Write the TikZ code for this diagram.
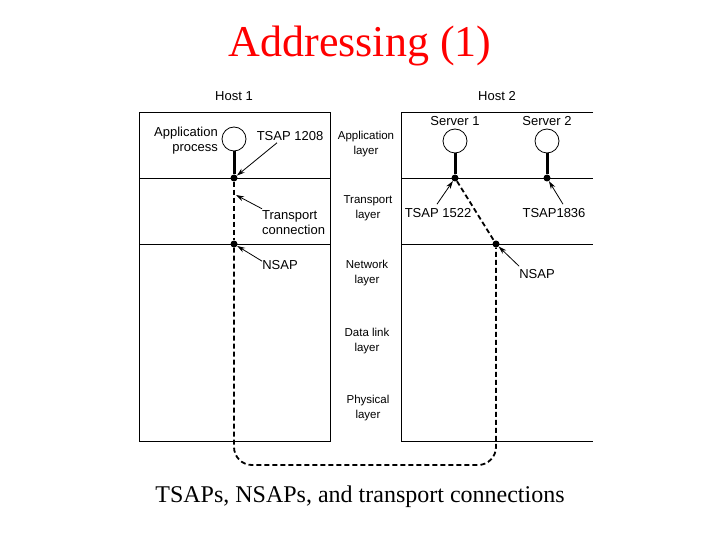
\documentclass[tikz,border=0pt]{standalone}
\usepackage{fontspec}
\setmainfont{Liberation Serif}
\newfontfamily\labelfont{Liberation Sans}
\usetikzlibrary{arrows.meta}
\begin{document}
\begin{tikzpicture}[x=1pt,y=-1pt,
  lbl/.style={font=\labelfont\fontsize{13}{15}\selectfont, inner sep=0pt},
  layer/.style={font=\labelfont\fontsize{11.5}{15}\selectfont, align=center, inner sep=0pt},
  proc/.style={draw, circle, minimum size=24pt, inner sep=0pt, line width=0.8pt},
  sap/.style={circle, fill, minimum size=7pt, inner sep=0pt},
  pointer/.style={-{Stealth[length=8pt,width=5pt]}, line width=0.8pt},
  stem/.style={line width=3pt},
  conn/.style={dash pattern=on 5pt off 3pt, line width=1.8pt}]
\useasboundingbox (0,0) rectangle (720,540);
\node (title) at (360,46) {\fontsize{44}{52}\selectfont\color{red}Addressing (1)};
\node (caption) at (360,497) {\fontsize{24}{28}\selectfont TSAPs, NSAPs, and transport connections};
\draw[line width=0.9pt] (139,112) rectangle (330,441);
\draw[line width=0.9pt] (139,178) -- (330,178) (139,244) -- (330,244);
\draw[line width=0.9pt] (593,112) -- (401,112) -- (401,441) -- (593,441);
\draw[line width=0.9pt] (401,178) -- (593,178) (401,244) -- (593,244);
\node[lbl] (host1) at (234,96) {Host 1};
\node[lbl] (host2) at (497,96) {Host 2};
\node[lbl, align=right, anchor=east] (app) at (218,141) {Application\\process};
\node[lbl] (tsapA) at (290,136) {TSAP 1208};
\node[lbl] (srv1) at (455,121) {Server 1};
\node[lbl] (srv2) at (547,121) {Server 2};
\node[layer] (l1) at (366,144) {Application\\layer};
\node[layer] (l2) at (368,208) {Transport\\layer};
\node[layer] (l3) at (367,273) {Network\\layer};
\node[layer] (l4) at (367,341) {Data link\\layer};
\node[layer] (l5) at (368,408) {Physical\\layer};
\node[lbl, align=left, anchor=west] (tc) at (262,223) {Transport\\connection};
\node[lbl] (nsapA) at (280,265) {NSAP};
\node[lbl] (tsapB) at (438,213) {TSAP 1522};
\node[lbl] (tsapC) at (554,213) {TSAP1836};
\node[lbl] (nsapB) at (537,274) {NSAP};
\node[proc] (ap) at (234,139) {};
\node[proc] (s1) at (455,141) {};
\node[proc] (s2) at (547,141) {};
\node[sap] (tA) at (234,178) {};
\node[sap] (nA) at (234,244) {};
\node[sap] (tB) at (455,178) {};
\node[sap] (tC) at (547,178) {};
\node[sap] (nB) at (496,244) {};
\coordinate (tcpt) at (236,195);
\coordinate (loop) at (365,465);
\draw[stem] (ap) -- (tA);
\draw[stem] (s1) -- (tB);
\draw[stem] (s2) -- (tC);
\draw[conn, line width=1.4pt] (tA) -- (nA);
\draw[conn, rounded corners=18pt] (nA) |- (loop) -| (nB);
\draw[conn] (tB) -- (nB);
\draw[pointer] ([xshift=-13pt,yshift=-2pt]tsapA.south) -- (tA);
\draw[pointer] ([yshift=2pt]tc.north west) -- (tcpt);
\draw[pointer] ([yshift=-1pt]nsapA.north west) -- (nA);
\draw[pointer] ([xshift=-1pt,yshift=4pt]tsapB.north) -- (tB);
\draw[pointer] ([xshift=9pt,yshift=4pt]tsapC.north) -- (tC);
\draw[pointer] ([yshift=3pt]nsapB.north west) -- (nB);
\end{tikzpicture}
\end{document}
